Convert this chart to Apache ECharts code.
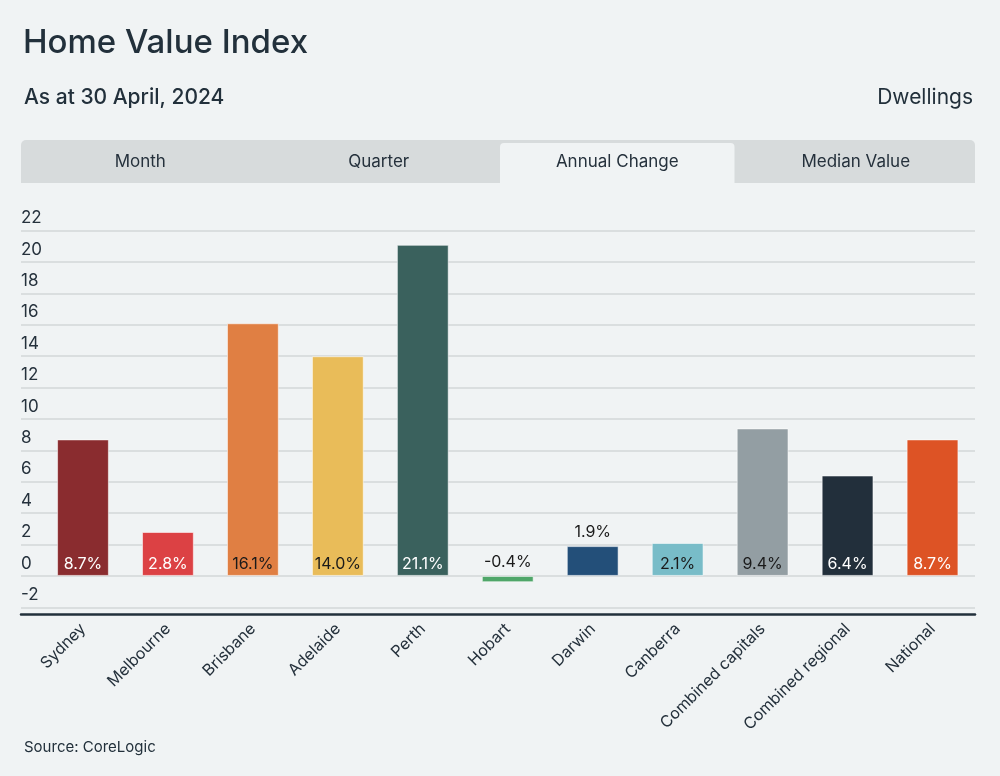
<!DOCTYPE html>
<html>
<head>
<meta charset="utf-8">
<script src="https://cdn.jsdelivr.net/npm/echarts@6/dist/echarts.min.js"></script>
<style>
html,body{margin:0;padding:0;background:#f0f3f4;}
#chart{width:1000px;height:776px;}
</style>
</head>
<body>
<div id="chart"></div>
<script>
const categories = ['Sydney','Melbourne','Brisbane','Adelaide','Perth','Hobart','Darwin','Canberra','Combined capitals','Combined regional','National'];
const values = [8.7, 2.8, 16.1, 14.0, 21.1, -0.4, 1.9, 2.1, 9.4, 6.4, 8.7];
const barColors = ['#8a2c2f','#dc4144','#e07f43','#e9bc59','#3a615d','#4fa669','#234f79','#78bcc8','#939ea3','#222f3b','#dd5325'];
const labelColors = ['#ffffff','#ffffff','#1a1a1a','#1a1a1a','#ffffff','#1a1a1a','#1a1a1a','#1a1a1a','#1a1a1a','#ffffff','#ffffff'];
const labelPositions = ['insideBottom','insideBottom','insideBottom','insideBottom','insideBottom','top','top','insideBottom','insideBottom','insideBottom','insideBottom'];
const tabs = ['Month','Quarter','Annual Change','Median Value'];
const activeTab = 2;
const yTicks = {min: -2, max: 22, interval: 2};

const FONT = 'Inter, "Noto Sans", sans-serif';
const TEXT = '#25313c';

const chart = echarts.init(document.getElementById('chart'));

const tabLeft = 21, tabRight = 975, tabW = (tabRight - tabLeft) / tabs.length;
const graphics = [
  {type:'text', left:23, top:27, style:{text:'Home Value Index', font:'500 33px ' + FONT, fill:'#22303b'}},
  {type:'text', left:24, top:87, style:{text:'As at 30 April, 2024', font:'500 21px ' + FONT, fill:'#22303b'}},
  {type:'text', right:27, top:87, style:{text:'Dwellings', font:'400 21px ' + FONT, fill:'#22303b', align:'right'}},
  {type:'rect', shape:{x:tabLeft, y:140, width:tabRight - tabLeft, height:43, r:[5,5,0,0]}, style:{fill:'#d7dbdc'}},
  {type:'text', left:24, top:740, style:{text:'Source: CoreLogic', font:'400 15px ' + FONT, fill:'#22303b'}}
];
tabs.forEach((t, i) => {
  const x = tabLeft + i * tabW;
  if (i === activeTab) {
    graphics.push({type:'rect', shape:{x:x + 2, y:143, width:tabW - 4, height:40, r:[4,4,0,0]}, style:{fill:'#f0f3f4'}});
  }
  graphics.push({type:'text', x:x + tabW / 2, y:162, style:{text:t, font:'400 17px ' + FONT, fill:TEXT, align:'center', verticalAlign:'middle'}});
});

chart.setOption({
  backgroundColor:'#f0f3f4',
  animation:false,
  graphic: graphics,
  grid:[
    {left:21, right:25, top:230.7, bottom:168.7},
    {left:40.5, right:25, top:230.7, bottom:168.7}
  ],
  xAxis:[
    {type:'category', gridIndex:0, data:[''], offset:7,
     axisLine:{show:true, onZero:false, lineStyle:{color:'#22303b', width:2.5}}, axisTick:{show:false}, axisLabel:{show:false}},
    {type:'category', gridIndex:1, data:categories, offset:7,
     axisLine:{show:false, onZero:false}, axisTick:{show:false},
     axisLabel:{rotate:45, color:TEXT, fontFamily:FONT, fontSize:16, margin:12, interval:0}}
  ],
  yAxis:[
    {type:'value', gridIndex:0, min:yTicks.min, max:yTicks.max, interval:yTicks.interval,
     axisLine:{show:false}, axisTick:{show:false},
     splitLine:{lineStyle:{color:'#d3d7d9', width:1.5}},
     axisLabel:{inside:true, margin:0, color:TEXT, fontFamily:FONT, fontSize:17, verticalAlign:'bottom', padding:[0,0,4,0]}},
    {type:'value', gridIndex:1, min:yTicks.min, max:yTicks.max, interval:yTicks.interval, show:false}
  ],
  series:[{
    type:'bar', xAxisIndex:1, yAxisIndex:1, barWidth:'61%',
    data: values.map((v, i) => ({
      value:v,
      itemStyle:{color:barColors[i], borderColor:'rgba(255,255,255,0.55)', borderWidth:1},
      label:{show:true, position:labelPositions[i], distance: labelPositions[i]==='top' ? 6 : 4,
        color:labelColors[i], fontFamily:FONT, fontSize:16,
        formatter: p => p.value.toFixed(1) + '%'}
    }))
  }]
});
</script>
</body>
</html>
